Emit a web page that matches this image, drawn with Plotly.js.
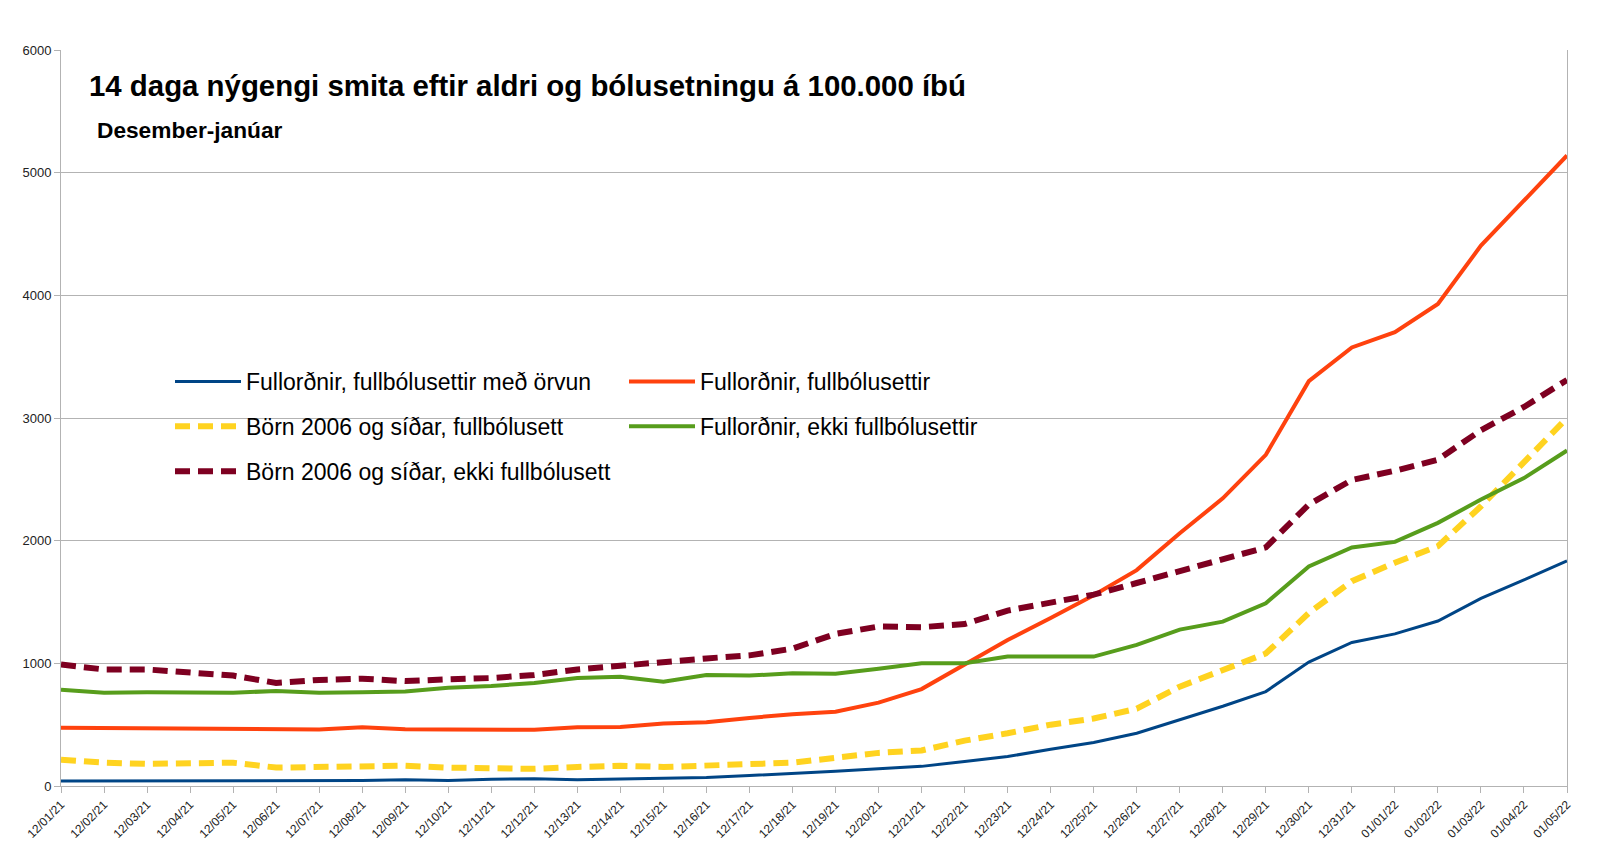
<!DOCTYPE html>
<html>
<head>
<meta charset="utf-8">
<script src="https://cdn.plot.ly/plotly-3.0.1.min.js"></script>
<style>html,body{margin:0;padding:0;background:#fff;}#chart{width:1600px;height:863px;}</style>
</head>
<body>
<div id="chart"></div>
<script>
const dates = ["12/01/21","12/02/21","12/03/21","12/04/21","12/05/21","12/06/21","12/07/21","12/08/21","12/09/21","12/10/21",
  "12/11/21","12/12/21","12/13/21","12/14/21","12/15/21","12/16/21","12/17/21","12/18/21","12/19/21","12/20/21",
  "12/21/21","12/22/21","12/23/21","12/24/21","12/25/21","12/26/21","12/27/21","12/28/21","12/29/21","12/30/21",
  "12/31/21","01/01/22","01/02/22","01/03/22","01/04/22","01/05/22"];

const fullMedOrvun = [40,40,40,45,45,45,45,45,50,45,55,60,50,55,60,70,85,100,120,140,160,200,240,300,355,430,540,650,770,1010,1170,1240,1345,1530,1680,1835];
const fullFullbol = [475,472,465,462,465,462,460,478,462,460,458,458,478,481,510,520,555,585,605,680,790,990,1190,1370,1555,1760,2060,2345,2700,3300,3575,3700,3930,4405,4770,5140];
const bornFullbol = [215,190,180,190,190,150,155,165,165,150,150,140,155,165,155,165,175,190,230,270,290,370,430,500,550,630,810,940,1080,1410,1670,1820,1955,2280,2640,3000];
const fullEkki = [785,760,765,760,760,775,760,765,770,800,815,840,880,890,850,905,900,920,915,955,1000,1000,1055,1055,1055,1150,1275,1340,1490,1790,1945,1990,2145,2335,2510,2735];
const bornEkki = [990,950,950,920,900,840,865,875,855,870,880,905,950,980,1015,1040,1065,1120,1240,1300,1295,1320,1430,1495,1560,1655,1755,1855,1945,2295,2495,2570,2660,2900,3090,3310];

const seriesNames = ["Fullorðnir, fullbólusettir með örvun","Fullorðnir, fullbólusettir","Börn 2006 og síðar, fullbólusett","Fullorðnir, ekki fullbólusettir","Börn 2006 og síðar, ekki fullbólusett"];

const traces = [
  {y: fullMedOrvun, name: seriesNames[0], line:{color:'#004586', width:3}, legend:'legend', legendgroup:'a'},
  {y: fullFullbol, name: seriesNames[1], line:{color:'#ff420e', width:4}, legend:'legend2', legendgroup:'b'},
  {y: bornFullbol, name: seriesNames[2], line:{color:'#ffd320', width:6, dash:'15px,8px'}, legend:'legend', legendgroup:'c'},
  {y: fullEkki, name: seriesNames[3], line:{color:'#579d1c', width:4}, legend:'legend2', legendgroup:'d'},
  {y: bornEkki, name: seriesNames[4], line:{color:'#7e0021', width:6, dash:'15px,8px'}, legend:'legend', legendgroup:'e'}
].map(t => Object.assign({x: dates, type:'scatter', mode:'lines', hoverinfo:'skip'}, t));

const legendCommon = {
  bgcolor:'rgba(0,0,0,0)', borderwidth:0, orientation:'v',
  font:{family:'Liberation Sans, Arial, sans-serif', size:23, color:'#000'},
  itemwidth:66, tracegroupgap:12, xanchor:'left', yanchor:'top', itemclick:false
};

const layout = {
  width:1600, height:863,
  paper_bgcolor:'#fff', plot_bgcolor:'#fff',
  margin:{l:61, r:33, t:50, b:77},
  font:{family:'Liberation Sans, Arial, sans-serif', color:'#000'},
  title:{text:'<b>14 daga nýgengi smita eftir aldri og bólusetningu á 100.000 íbú</b>',
    x:89/1600, xanchor:'left', xref:'container', y:1-86/863, yanchor:'middle', yref:'container',
    font:{family:'Liberation Sans, Arial, sans-serif', size:29.4, color:'#000'}},
  annotations:[{text:'<b>Desember-janúar</b>', xref:'paper', yref:'paper', x:(95-61)/1506, y:(786-130)/736,
    xanchor:'left', yanchor:'middle', showarrow:false, font:{family:'Liberation Sans, Arial, sans-serif', size:22.7, color:'#000'}}],
  xaxis:{type:'category', range:[0,35], tickangle:-45, tickfont:{size:12, family:'Liberation Sans, Arial, sans-serif', color:'#222'},
    ticks:'outside', ticklen:6, tickcolor:'#b3b3b3', showline:true, linecolor:'#b3b3b3', linewidth:1, showgrid:false, zeroline:false, fixedrange:true},
  yaxis:{range:[0,6000], dtick:1000, tickfont:{size:13, family:'Liberation Sans, Arial, sans-serif', color:'#222'},
    ticks:'outside', ticklen:6, tickcolor:'#b3b3b3', showline:true, mirror:true, linecolor:'#b3b3b3', linewidth:1,
    showgrid:true, gridcolor:'#b3b3b3', gridwidth:1, zeroline:false, fixedrange:true},
  showlegend:true,
  legend: Object.assign({}, legendCommon, {x:(170-61)/1506, y:(786-360)/736}),
  legend2: Object.assign({}, legendCommon, {x:(624-61)/1506, y:(786-360)/736})
};

Plotly.newPlot('chart', traces, layout, {displayModeBar:false, staticPlot:true});
</script>
</body>
</html>
